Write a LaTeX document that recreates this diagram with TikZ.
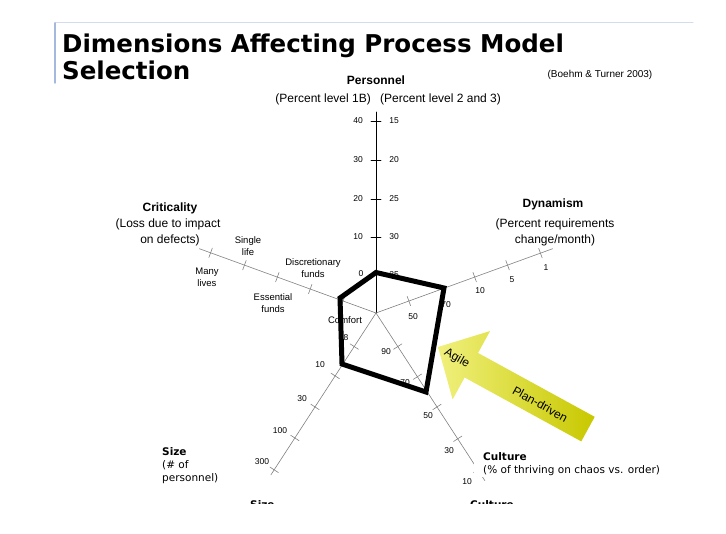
\documentclass[tikz,border=0pt]{standalone}
\usepackage{fontspec}
\setmainfont{Liberation Sans}
\newfontfamily\verdana{DejaVu Sans}
\usetikzlibrary{calc}
\definecolor{frameleft}{RGB}{165,185,220}
\definecolor{frametop}{RGB}{210,220,238}
\definecolor{agilepale}{RGB}{240,240,125}
\definecolor{plandark}{RGB}{200,200,0}

\begin{document}
\begin{tikzpicture}[x=1pt,y=-1pt,line cap=round,line join=round,
  spoke/.style={draw=gray,line width=0.6pt},
  axtick/.style={draw=gray,line width=0.6pt},
  num/.style={font=\fontsize{8.5}{10}\selectfont,inner sep=0pt},
  cat/.style={font=\fontsize{9.5}{12}\selectfont,align=center,inner sep=0pt},
  headlab/.style={font=\bfseries\fontsize{12}{14}\selectfont,inner sep=0pt},
  sublab/.style={font=\fontsize{12}{14}\selectfont,inner sep=0pt},
  vlab/.style={font=\verdana\fontsize{10.5}{13}\selectfont,inner sep=0pt,anchor=base west}]
\useasboundingbox (0,0) rectangle (726,534);
% title frame
\draw[frametop,line width=1pt] (55,23) -- (693,23);
\draw[frameleft,line width=1.5pt] (55,23) -- (55,83);
\node[anchor=base west,inner sep=0pt,font=\verdana\bfseries\fontsize{24.5}{28}\selectfont] (title1) at (62,53) {Dimensions Affecting Process Model};
\node[anchor=base west,inner sep=0pt,font=\verdana\bfseries\fontsize{24.5}{28}\selectfont] (title2) at (62,80) {Selection};
\node[font=\fontsize{10}{12}\selectfont,inner sep=0pt] (cite) at (600,75) {(Boehm \& Turner 2003)};
% spokes
\coordinate (C) at (376,313);
\draw[line width=0.9pt] (C) -- (376,112) coordinate (pers);
\draw[spoke] (C) -- ([shift={(C)}]-20:188) coordinate (dyn);
\draw[spoke] (C) -- ([shift={(C)}]200:188) coordinate (crit);
\draw[spoke] (C) -- ([shift={(C)}]123:193) coordinate (size);
\draw[spoke] (C) -- ([shift={(C)}]57:200) coordinate (cult);
% personnel ticks
\draw[line width=0.9pt] (371,237) -- (381,237);
\draw[line width=0.9pt] (371,199) -- (381,199);
\draw[line width=0.9pt] (371,160) -- (381,160);
\draw[line width=0.9pt] (371,121) -- (381,121);
% dynamism ticks
\draw[axtick] ([shift={(C)}]-20:35) ++(70:5) -- ++(250:10);
\draw[axtick] ([shift={(C)}]-20:70) ++(70:5) -- ++(250:10);
\draw[axtick] ([shift={(C)}]-20:105) ++(70:5) -- ++(250:10);
\draw[axtick] ([shift={(C)}]-20:140) ++(70:5) -- ++(250:10);
\draw[axtick] ([shift={(C)}]-20:175) ++(70:5) -- ++(250:10);
% criticality ticks
\draw[axtick] ([shift={(C)}]200:35) ++(110:5) -- ++(290:10);
\draw[axtick] ([shift={(C)}]200:70) ++(110:5) -- ++(290:10);
\draw[axtick] ([shift={(C)}]200:105) ++(110:5) -- ++(290:10);
\draw[axtick] ([shift={(C)}]200:140) ++(110:5) -- ++(290:10);
\draw[axtick] ([shift={(C)}]200:176) ++(110:5) -- ++(290:10);
% size ticks
\draw[axtick] ([shift={(C)}]123:40) ++(33:5) -- ++(213:10);
\draw[axtick] ([shift={(C)}]123:75) ++(33:5) -- ++(213:10);
\draw[axtick] ([shift={(C)}]123:112) ++(33:5) -- ++(213:10);
\draw[axtick] ([shift={(C)}]123:149) ++(33:5) -- ++(213:10);
\draw[axtick] ([shift={(C)}]123:187) ++(33:5) -- ++(213:10);
% culture ticks
\draw[axtick] ([shift={(C)}]57:40) ++(-33:5) -- ++(147:10);
\draw[axtick] ([shift={(C)}]57:76) ++(-33:5) -- ++(147:10);
\draw[axtick] ([shift={(C)}]57:112) ++(-33:5) -- ++(147:10);
\draw[axtick] ([shift={(C)}]57:150) ++(-33:5) -- ++(147:10);
\draw[axtick] ([shift={(C)}]57:187) ++(-33:5) -- ++(147:10);
% personnel labels
\node[headlab] (perslab) at (376,80) {Personnel};
\node[sublab,anchor=east] (pers1b) at (371,99) {(Percent level 1B)};
\node[sublab,anchor=west] (pers23) at (380,99) {(Percent level 2 and 3)};
\node[num] (pl40) at (358,121) {40};
\node[num] (pl30) at (358,160) {30};
\node[num] (pl20) at (358,199) {20};
\node[num] (pl10) at (358,237) {10};
\node[num] (pl0) at (361,274) {0};
\node[num] (pr15) at (394,121) {15};
\node[num] (pr20) at (394,160) {20};
\node[num] (pr25) at (394,199) {25};
\node[num] (pr30) at (394,237) {30};
\node[num] (pr35) at (394,275) {35};
% dynamism labels
\node[headlab] (dynlab) at (553,204) {Dynamism};
\node[sublab] (dyn1) at (555,224) {(Percent requirements};
\node[sublab] (dyn2) at (555,240) {change/month)};
\node[num] (d50) at (413,317) {50};
\node[num] (d70) at (446,305) {70};
\node[num] (d10) at (480,291) {10};
\node[num] (d5) at (512,280) {5};
\node[num] (d1) at (546,268) {1};
% criticality labels
\node[headlab] (critlab) at (170,208) {Criticality};
\node[sublab] (crit1) at (168,224) {(Loss due to impact};
\node[sublab] (crit2) at (170,240) {on defects)};
\node[cat] (comfort) at (345,320) {Comfort};
\node[cat] (discr) at (313,268) {Discretionary\\funds};
\node[cat] (essen) at (273,303) {Essential\\funds};
\node[cat] (single) at (248,246) {Single\\life};
\node[cat] (many) at (207,277) {Many\\lives};
% size labels
\node[num] (s8) at (346,338) {8};
\node[num] (s10) at (320,365) {10};
\node[num] (s30) at (302,399) {30};
\node[num] (s100) at (280,431) {100};
\node[num] (s300) at (262,462) {300};
\node[vlab,font=\verdana\bfseries\fontsize{10.5}{13}\selectfont] (sizelab) at (162,456) {Size};
\node[vlab] (size1) at (162,469) {(\# of};
\node[vlab] (size2) at (162,482) {personnel)};
% culture labels
\node[num] (c90) at (386,352) {90};
\node[num] (c70) at (405,383) {70};
\node[num] (c50) at (428,416) {50};
\node[num] (c30) at (449,451) {30};
\node[num] (c10) at (467,482) {10};
\fill[white] (474,449) rectangle (668,477);
\node[vlab,font=\verdana\bfseries\fontsize{10.5}{13}\selectfont] (cultlab) at (483,461) {Culture};
\node[vlab] (cult1) at (483,474) {(\% of thriving on chaos vs. order)};
% cut off labels at the bottom
\node[vlab,font=\verdana\bfseries\fontsize{10.5}{13}\selectfont] (sizecut) at (250,509) {Size};
\node[vlab,font=\verdana\bfseries\fontsize{10.5}{13}\selectfont] (cultcut) at (470,509) {Culture};
\fill[white] (150,504) rectangle (560,534);
% profile
\draw[line width=5pt,line join=miter] (376,272.5) coordinate (p1) -- (444,288) coordinate (p2) -- (426,392) coordinate (p3) -- (342,364) coordinate (p4) -- (340,298) coordinate (p5) -- cycle;
% arrow
\begin{scope}[shift={(438,347)},rotate=-28.7]
\shade[left color=agilepale,right color=plandark] (0,0) -- (38,-39) -- (38,-14) -- (171,-14) -- (171,14) -- (38,14) -- (38,39) -- cycle;
\node[rotate=-29,font=\fontsize{12}{14}\selectfont,inner sep=0pt] (agile) at (22,1) {Agile};
\node[rotate=-29,font=\fontsize{12}{14}\selectfont,inner sep=0pt] (plan) at (117,1) {Plan-driven};
\end{scope}
\end{tikzpicture}
\end{document}
